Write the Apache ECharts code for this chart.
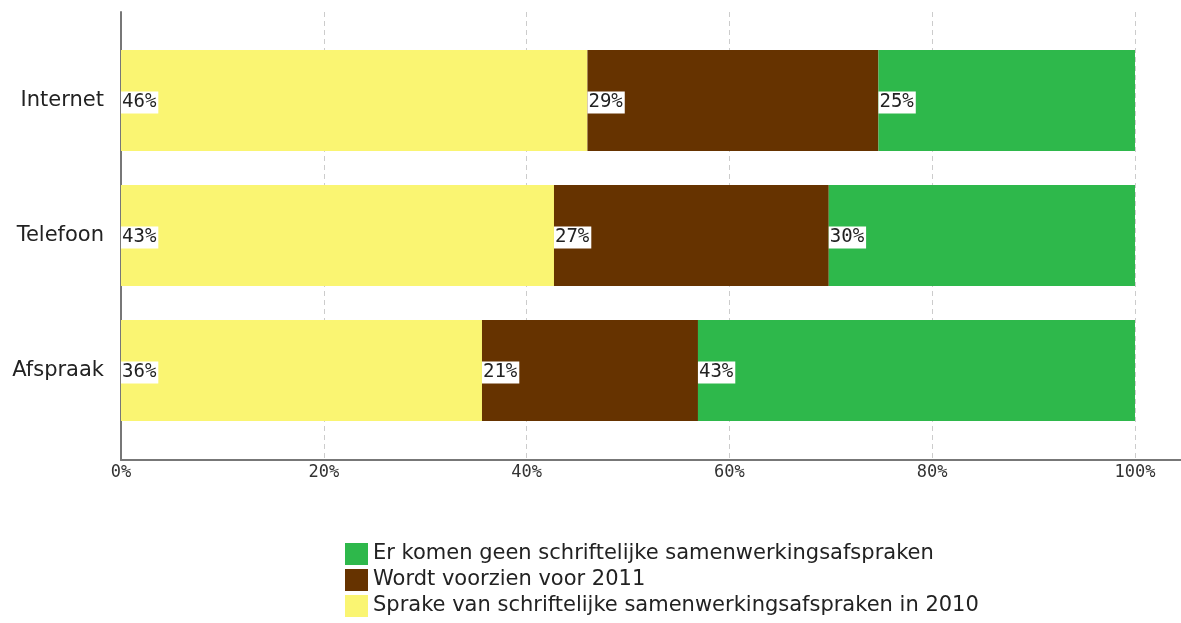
<!DOCTYPE html>
<html>
<head>
<meta charset="utf-8">
<script src="https://cdn.jsdelivr.net/npm/echarts@6/dist/echarts.min.js"></script>
<style>
  html, body { margin: 0; padding: 0; background: #fff; }
  #chart { width: 1181px; height: 623px; }
</style>
</head>
<body>
<div id="chart"></div>
<script>
const categories = ['Internet', 'Telefoon', 'Afspraak']
const sprake = [46.0, 42.7, 35.6]
const voorzien = [28.7, 27.1, 21.3]
const geen = [25.3, 30.2, 43.1]
const xTicks = [0, 20, 40, 60, 80, 100]

const seriesNames = [
  'Sprake van schriftelijke samenwerkingsafspraken in 2010',
  'Wordt voorzien voor 2011',
  'Er komen geen schriftelijke samenwerkingsafspraken'
]
const colors = ['#faf572', '#663300', '#2eb84b']

const mono = '"DejaVu Sans Mono", monospace'
const sans = '"DejaVu Sans", sans-serif'

const chart = echarts.init(document.getElementById('chart'))

const makeSeries = (name, data, color) => ({
  name,
  type: 'bar',
  stack: 'total',
  xAxisIndex: 1,
  yAxisIndex: 1,
  barWidth: 101,
  data,
  itemStyle: { color },
  label: {
    show: true,
    position: 'insideLeft',
    distance: 0,
    formatter: p => Math.round(p.value) + '%',
    fontFamily: mono,
    fontSize: 19,
    color: '#222',
    backgroundColor: '#fff',
    padding: [2, 2, 1, 1],
    offset: [0, 2]
  }
})

chart.setOption({
  animation: false,
  grid: [
    { left: 121, right: 46, top: 12, bottom: 163 },
    { left: 121, right: 46, top: 33, bottom: 185 }
  ],
  xAxis: [
    {
      gridIndex: 0,
      type: 'value',
      min: xTicks[0],
      max: xTicks[xTicks.length - 1],
      interval: 20,
      axisLine: { show: true, lineStyle: { color: '#777', width: 2 } },
      axisTick: { show: false },
      axisLabel: {
        formatter: v => v + '%',
        fontFamily: mono,
        fontSize: 17,
        color: '#333',
        margin: 4
      },
      splitLine: { show: true, lineStyle: { type: [5, 4], color: '#ccc' } }
    },
    {
      gridIndex: 1,
      type: 'value',
      min: 0,
      max: 100,
      show: false
    }
  ],
  yAxis: [
    {
      gridIndex: 0,
      type: 'category',
      data: [''],
      axisLine: { show: true, lineStyle: { color: '#777', width: 2 } },
      axisTick: { show: false },
      axisLabel: { show: false }
    },
    {
      gridIndex: 1,
      type: 'category',
      inverse: true,
      data: categories,
      axisLine: { show: false },
      axisTick: { show: false },
      axisLabel: {
        fontFamily: sans,
        fontSize: 21,
        color: '#222',
        margin: 17
      }
    }
  ],
  legend: {
    orient: 'vertical',
    left: 345,
    top: 543,
    padding: 0,
    itemWidth: 23,
    itemHeight: 22,
    itemGap: 4,
    icon: 'rect',
    data: [seriesNames[2], seriesNames[1], seriesNames[0]],
    textStyle: { fontFamily: sans, fontSize: 21, color: '#222' }
  },
  graphic: [
    {
      type: 'line',
      shape: { x1: 1135, y1: 460, x2: 1181, y2: 460 },
      style: { stroke: '#777', lineWidth: 2 }
    }
  ],
  series: [
    makeSeries(seriesNames[0], sprake, colors[0]),
    makeSeries(seriesNames[1], voorzien, colors[1]),
    makeSeries(seriesNames[2], geen, colors[2])
  ]
})
</script>
</body>
</html>
